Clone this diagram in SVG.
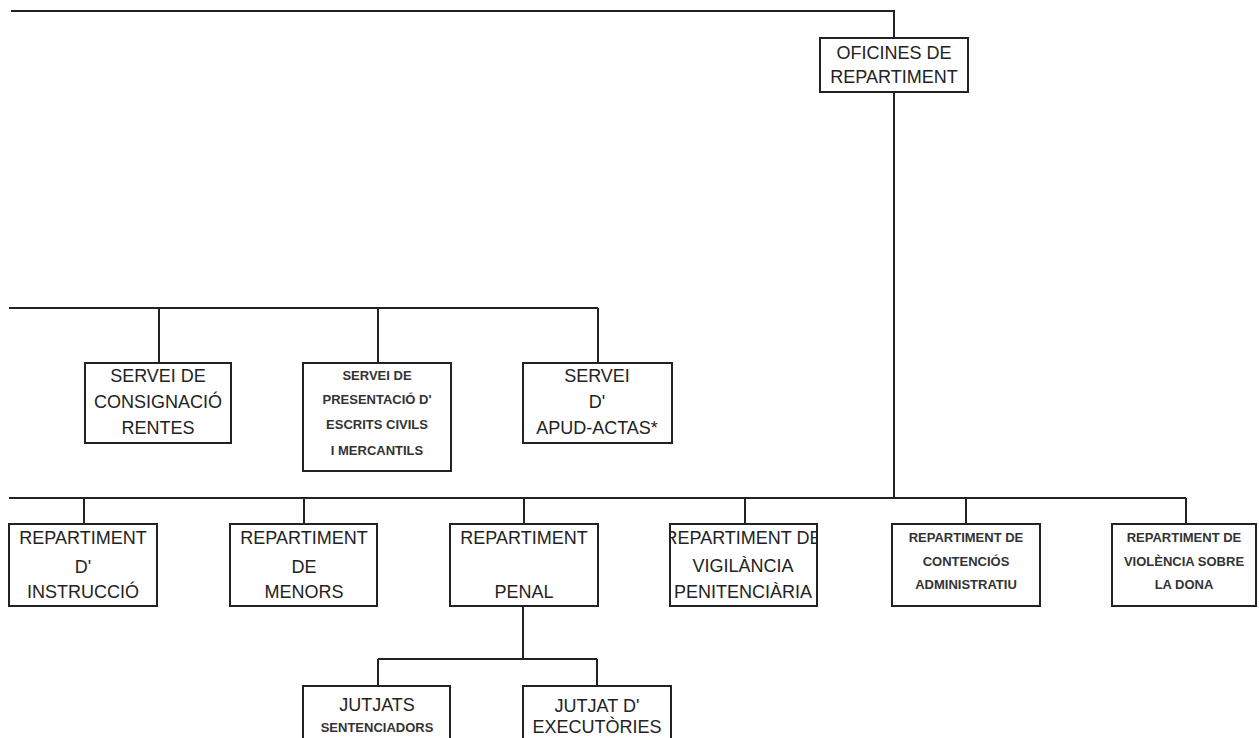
<svg xmlns="http://www.w3.org/2000/svg" width="1259" height="738" viewBox="0 0 1259 738">
<style>
.box{fill:#fff;stroke:#222;stroke-width:2}
.ln{fill:none;stroke:#222;stroke-width:2}
text{font-family:"Liberation Sans",Arial,sans-serif;fill:#222;text-anchor:middle}
.l{font-size:18px}
.s{font-size:13px;font-weight:bold;fill:#333}
</style>
<defs>
<clipPath id="c4"><rect x="671" y="525" width="145" height="80"/></clipPath>
</defs>
<rect width="1259" height="738" fill="#fff"/>
<g id="connectors">
<path class="ln" d="M11 11H894V38"/>
<path class="ln" d="M894 92V498"/>
<path class="ln" d="M9 308H598M159 308V363M378 308V363M598 308V363"/>
<path class="ln" d="M9 498H1186M84 498V524M304 498V524M524 498V524M745 498V524M966 498V524M1186 498V524"/>
<path class="ln" d="M523 606V659M378 659H597M378 659V686M597 659V686"/>
</g>
<g id="oficines">
<rect class="box" x="820" y="38" width="148" height="54"/>
<text class="l" x="894" y="59">OFICINES DE</text>
<text class="l" x="894" y="83">REPARTIMENT</text>
</g>
<g id="consignacio">
<rect class="box" x="85" y="363" width="146" height="80"/>
<text class="l" x="158" y="382">SERVEI DE</text>
<text class="l" x="158" y="408">CONSIGNACIÓ</text>
<text class="l" x="158" y="434">RENTES</text>
</g>
<g id="presentacio">
<rect class="box" x="303" y="363" width="148" height="108"/>
<text class="s" x="377" y="380">SERVEI DE</text>
<text class="s" x="377" y="404">PRESENTACIÓ D'</text>
<text class="s" x="377" y="429">ESCRITS CIVILS</text>
<text class="s" x="377" y="455">I MERCANTILS</text>
</g>
<g id="apud">
<rect class="box" x="523" y="363" width="149" height="80"/>
<text class="l" x="597" y="382">SERVEI</text>
<text class="l" x="597" y="408">D'</text>
<text class="l" x="597" y="434">APUD-ACTAS*</text>
</g>
<g id="instruccio">
<rect class="box" x="9" y="524" width="148" height="82"/>
<text class="l" x="83" y="544">REPARTIMENT</text>
<text class="l" x="83" y="573">D'</text>
<text class="l" x="83" y="598">INSTRUCCIÓ</text>
</g>
<g id="menors">
<rect class="box" x="230" y="524" width="147" height="82"/>
<text class="l" x="304" y="544">REPARTIMENT</text>
<text class="l" x="304" y="573">DE</text>
<text class="l" x="304" y="598">MENORS</text>
</g>
<g id="penal">
<rect class="box" x="450" y="524" width="148" height="82"/>
<text class="l" x="524" y="544">REPARTIMENT</text>
<text class="l" x="524" y="598">PENAL</text>
</g>
<g id="vigilancia">
<rect class="box" x="670" y="524" width="147" height="82"/>
<g clip-path="url(#c4)">
<text class="l" x="743" y="544">REPARTIMENT DE</text>
</g>
<text class="l" x="743" y="572">VIGILÀNCIA</text>
<text class="l" x="743" y="598">PENITENCIÀRIA</text>
</g>
<g id="contencios">
<rect class="box" x="892" y="524" width="148" height="82"/>
<text class="s" x="966" y="542">REPARTIMENT DE</text>
<text class="s" x="966" y="566">CONTENCIÓS</text>
<text class="s" x="966" y="589">ADMINISTRATIU</text>
</g>
<g id="violencia">
<rect class="box" x="1112" y="524" width="144" height="82"/>
<text class="s" x="1184" y="542">REPARTIMENT DE</text>
<text class="s" x="1184" y="566">VIOLÈNCIA SOBRE</text>
<text class="s" x="1184" y="589">LA DONA</text>
</g>
<g id="sentenciadors">
<rect class="box" x="303" y="686" width="147" height="60"/>
<text class="l" x="377" y="711">JUTJATS</text>
<text class="s" x="377" y="732">SENTENCIADORS</text>
</g>
<g id="executories">
<rect class="box" x="523" y="686" width="148" height="60"/>
<text class="l" x="597" y="712">JUTJAT D'</text>
<text class="l" x="597" y="733">EXECUTÒRIES</text>
</g>
</svg>
